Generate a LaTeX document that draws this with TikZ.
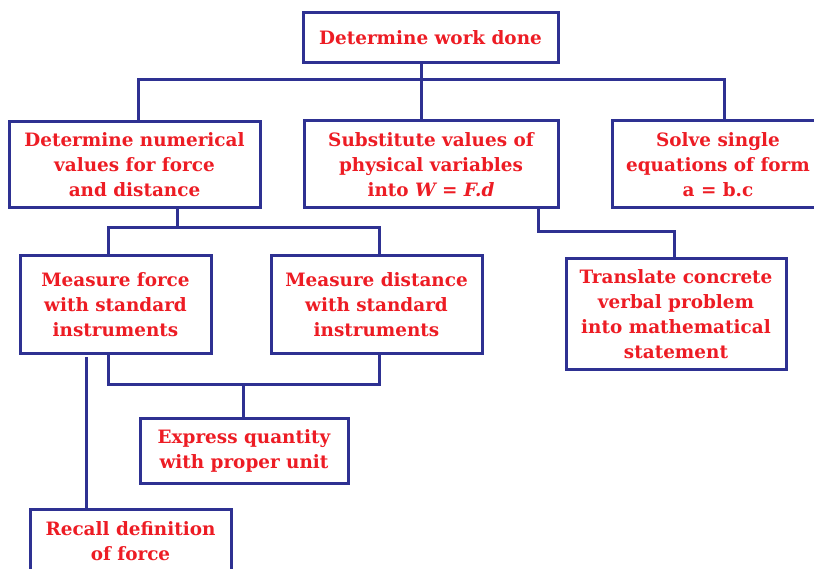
\documentclass[tikz,border=0pt]{standalone}
\usepackage{fontspec}
\setmainfont{DejaVu Serif}
\definecolor{linkblue}{HTML}{2E3192}
\definecolor{labelred}{HTML}{ED1C24}
\begin{document}
\begin{tikzpicture}[x=1pt,y=-1pt,
  box/.style={draw=linkblue,line width=3pt,fill=white,align=center,
    text=labelred,font=\fontsize{18.4}{25}\selectfont\bfseries,inner sep=0pt},
  link/.style={draw=linkblue,line width=3pt}]
\useasboundingbox (0,0) rectangle (814,569);
\clip (0,0) rectangle (814,569);

% boxes
\node[box,minimum width=255,minimum height=50] (top) at (430.5,38) {Determine work done};
\node[box,minimum width=251,minimum height=86] (num) at (134.5,165)
  {Determine numerical\\values for force\\and distance};
\node[box,minimum width=254,minimum height=87] (sub) at (431,164.5)
  {Substitute values of\\physical variables\\into \textit{W = F.d}};
\node[box,minimum width=212,minimum height=87] (solve) at (718,164.5)
  {Solve single\\equations of form\\a = b.c};
\node[box,minimum width=191,minimum height=97] (force) at (115.5,304.5)
  {Measure force\\with standard\\instruments};
\node[box,minimum width=211,minimum height=97] (dist) at (376.5,304.5)
  {Measure distance\\with standard\\instruments};
\node[box,minimum width=220,minimum height=110] (trans) at (676,314)
  {Translate concrete\\verbal problem\\into mathematical\\statement};
\node[box,minimum width=208,minimum height=65] (expr) at (244,450.5)
  {Express quantity\\with proper unit};
\node[box,minimum width=201,minimum height=65] (recall) at (130.5,541.5)
  {Recall definition\\of force};

% junction points
\coordinate (busA) at (138,80);
\coordinate (busM) at (421,80);
\coordinate (busB) at (724,80);
\coordinate (numJ) at (177,228);
\coordinate (measL) at (108,228);
\coordinate (measR) at (379,228);
\coordinate (lowL) at (108,384);
\coordinate (lowR) at (379,384);
\coordinate (lowM) at (243,384);
\coordinate (subJ) at (538,232);
\coordinate (transJ) at (674,232);
\coordinate (defTop) at (86,357);

% connectors
\draw[link] (top.south -| busM) -- (sub.north -| busM);
\draw[link] (num.north -| busA) |- (busB) -- (solve.north -| busB);
\draw[link] (num.south -| numJ) -- (numJ);
\draw[link] (force.north -| measL) |- (measR) -- (dist.north -| measR);
\draw[link] (force.south -| lowL) |- (lowR) -- (dist.south -| lowR);
\draw[link] (lowM) -- (expr.north -| lowM);
\draw[link] (sub.south -| subJ) |- (transJ) -- (trans.north -| transJ);
\draw[link] (defTop) -- (recall.north -| defTop);
\end{tikzpicture}
\end{document}
